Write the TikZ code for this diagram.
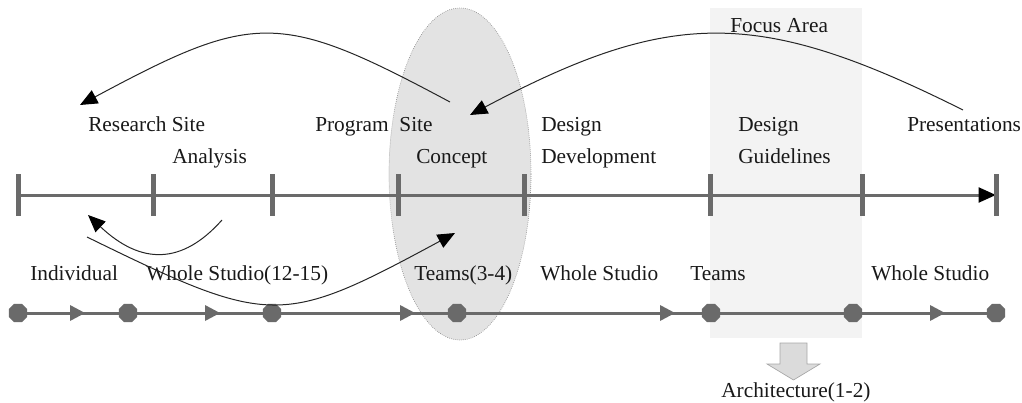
\documentclass[tikz,border=0pt]{standalone}
\usepackage{fontspec}
\setmainfont{Liberation Serif}
\usetikzlibrary{arrows.meta,shapes.geometric}
\definecolor{ln}{HTML}{6A6A6A}
\definecolor{ellgray}{HTML}{E3E3E3}
\definecolor{focusgray}{HTML}{F3F3F3}
\begin{document}
\begin{tikzpicture}[x=0.75pt,y=-0.75pt,
  lbl/.style={anchor=base west,inner sep=0pt,font=\fontsize{16}{19}\selectfont,text=black!90},
  tickbar/.style={fill=ln,draw=none,minimum width=3.75pt,minimum height=32pt,inner sep=0pt},
  dotnode/.style={regular polygon,regular polygon sides=8,fill=ln,draw=none,minimum size=15pt,inner sep=0pt},
  cur/.style={draw=black!85,line width=0.75pt,-{Triangle[length=13pt,width=11pt,color=black]}}]
\useasboundingbox (0,0) rectangle (1022,403);
% focus area and ellipse
\fill[focusgray] (710,8) rectangle (862,338);
\draw[fill=ellgray,draw=black!45,densely dotted,line width=0.5pt] (460,174) ellipse [x radius=53.25pt,y radius=124.5pt];
% top timeline
\foreach \n/\x in {1/18,2/153,3/272,4/398,5/524,6/710,7/862,8/996}
  \coordinate (p\n) at (\x,195);
\draw[ln,line width=2.25pt,-{Triangle[length=13pt,width=11pt,color=black]}] (p1) -- (p8);
\foreach \n in {1,...,8}
  \node[tickbar] (t\n) at (p\n) {};
% bottom timeline
\foreach \n/\x in {1/18,2/128,3/272,4/457,5/711,6/853,7/996}
  \coordinate (q\n) at (\x,313);
\draw[ln,line width=2.25pt] (q1) -- (q7);
\foreach \x in {85,220,415,675,945}
  \fill[ln] (\x,313) -- (\x-15,305) -- (\x-15,321) -- cycle;
\foreach \n in {1,...,7}
  \node[dotnode] (d\n) at (q\n) {};
% block arrow
\draw[draw=black!35,fill=black!14,line width=0.5pt] (780,343) -- (807,343) -- (807,364) -- (820,364) -- (793.5,380) -- (767,364) -- (780,364) -- cycle;
% labels
\node[lbl] (rs) at (88,132) {Research Site};
\node[lbl] (an) at (172,163) {Analysis};
\node[lbl] (ps) at (315,132) {Program~~Site};
\node[lbl] (co) at (416,163) {Concept};
\node[lbl] (de1) at (541,132) {Design};
\node[lbl] (dv) at (541,163) {Development};
\node[lbl] (de2) at (738,132) {Design};
\node[lbl] (gl) at (738,163) {Guidelines};
\node[lbl] (pr) at (907,132) {Presentations};
\node[lbl] (fa) at (730,33) {Focus Area};
\node[lbl] (in) at (30,280) {Individual};
\node[lbl] (ws1) at (146,280) {Whole Studio(12-15)};
\node[lbl] (tm1) at (414,280) {Teams(3-4)};
\node[lbl] (ws2) at (540,280) {Whole Studio};
\node[lbl] (tm2) at (690,280) {Teams};
\node[lbl] (ws3) at (871,280) {Whole Studio};
\node[lbl] (ar) at (721,397) {Architecture(1-2)};
% curves
\coordinate (c1s) at (450,102); \coordinate (c1e) at (80,105);
\coordinate (c2s) at (963,110); \coordinate (c2e) at (470,115);
\coordinate (c3s) at (222,220); \coordinate (c3e) at (88,215);
\coordinate (c4s) at (87,237);  \coordinate (c4e) at (455,233);
\draw[cur] (c1s) .. controls (280,11) and (255,11) .. (c1e);
\draw[cur] (c2s) .. controls (759,8) and (672,8) .. (c2e);
\draw[cur] (c3s) .. controls (182,265) and (141,265) .. (c3e);
\draw[cur] (c4s) .. controls (271,327) and (281,327) .. (c4e);
\end{tikzpicture}
\end{document}
